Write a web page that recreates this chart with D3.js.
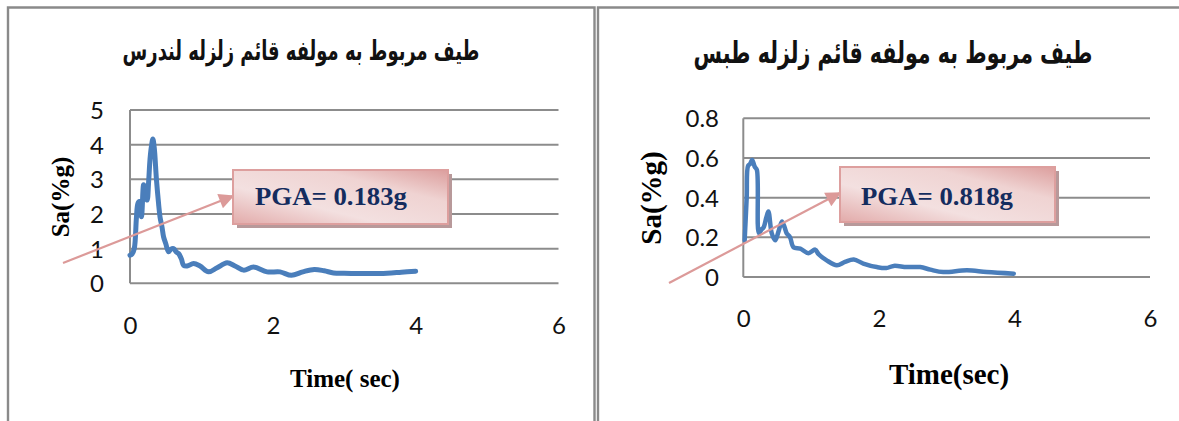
<!DOCTYPE html>
<html>
<head>
<meta charset="utf-8">
<script src="https://cdn.jsdelivr.net/npm/d3@7"></script>
<style>
  html, body { margin: 0; padding: 0; background: #fff; }
  svg { display: block; }
</style>
</head>
<body>
<svg id="chart" width="1179" height="421"></svg>
<script>
// Response spectra, vertical component — Landers (left) and Tabas (right)
const xTicks = [0, 2, 4, 6];

const landersTitle = "طیف مربوط به مولفه قائم زلزله لندرس";
const landersTime = [0, 0.03, 0.06, 0.09, 0.11, 0.13, 0.16, 0.19, 0.21, 0.24, 0.26, 0.28, 0.30, 0.32, 0.34, 0.37, 0.40, 0.42, 0.45, 0.47, 0.50, 0.54, 0.57, 0.61, 0.65, 0.68, 0.72, 0.75, 0.80, 0.89, 0.98, 1.10, 1.22, 1.36, 1.47, 1.59, 1.73, 1.92, 2.10, 2.26, 2.42, 2.58, 2.72, 2.85, 3.00, 3.33, 3.60, 3.80, 4.00];
const landersSa   = [0.81, 0.85, 1.00, 1.90, 2.30, 2.36, 1.92, 2.84, 2.60, 2.40, 2.90, 3.57, 3.95, 4.16, 3.90, 3.00, 2.30, 1.92, 1.60, 1.34, 1.15, 0.91, 0.98, 1.00, 0.90, 0.86, 0.70, 0.52, 0.50, 0.57, 0.50, 0.33, 0.45, 0.59, 0.50, 0.38, 0.47, 0.33, 0.33, 0.23, 0.33, 0.40, 0.36, 0.30, 0.29, 0.28, 0.29, 0.32, 0.35];
const landersYTicks = [0, 1, 2, 3, 4, 5];
const landersPGA = "PGA= 0.183g";
const landersXLabel = "Time( sec)";

const tabasTitle = "طیف مربوط به مولفه قائم زلزله طبس";
const tabasTime = [0.02, 0.05, 0.07, 0.10, 0.13, 0.17, 0.20, 0.23, 0.27, 0.30, 0.34, 0.37, 0.42, 0.47, 0.52, 0.57, 0.61, 0.64, 0.69, 0.74, 0.84, 0.96, 1.06, 1.11, 1.23, 1.38, 1.50, 1.63, 1.77, 1.97, 2.11, 2.22, 2.41, 2.61, 2.76, 2.95, 3.30, 3.59, 3.99];
const tabasSa   = [0.185, 0.40, 0.56, 0.57, 0.59, 0.555, 0.54, 0.22, 0.24, 0.25, 0.30, 0.33, 0.22, 0.185, 0.23, 0.28, 0.25, 0.22, 0.20, 0.15, 0.143, 0.12, 0.138, 0.115, 0.084, 0.059, 0.076, 0.088, 0.068, 0.05, 0.045, 0.056, 0.05, 0.05, 0.037, 0.025, 0.034, 0.025, 0.017];
const tabasYTicks = [0, 0.2, 0.4, 0.6, 0.8];
const tabasPGA = "PGA= 0.818g";
const tabasXLabel = "Time(sec)";

const svg = d3.select("#chart");

// gradient for the callout boxes
const defs = svg.append("defs");
const grad = defs.append("linearGradient").attr("id", "calloutFill")
  .attr("x1", "0%").attr("y1", "100%").attr("x2", "100%").attr("y2", "0%");
grad.append("stop").attr("offset", "0%").attr("stop-color", "#e2aaa9");
grad.append("stop").attr("offset", "35%").attr("stop-color", "#f3e0e0");
grad.append("stop").attr("offset", "70%").attr("stop-color", "#efd3d2");
grad.append("stop").attr("offset", "100%").attr("stop-color", "#dc9e9d");

defs.append("marker").attr("id", "arrowHead")
  .attr("viewBox", "0 0 10 10").attr("refX", 9).attr("refY", 5)
  .attr("markerWidth", 8).attr("markerHeight", 7).attr("orient", "auto")
  .attr("markerUnits", "strokeWidth")
  .append("path").attr("d", "M0,0 L10,5 L0,10 Z").attr("fill", "#dc9a99");

// panel frames
const frame = "#8a8a8a";
svg.append("path").attr("d", "M8,425 V7.5 H594.5 V425")
  .attr("fill", "none").attr("stroke", frame).attr("stroke-width", 2.4);
svg.append("path").attr("d", "M598,425 V7.5 H1185")
  .attr("fill", "none").attr("stroke", frame).attr("stroke-width", 2.4);

function drawPanel(cfg) {
  const g = svg.append("g");
  const x = d3.scaleLinear().domain([0, 6]).range([cfg.left, cfg.right]);
  const y = d3.scaleLinear().domain([0, cfg.yMax]).range([cfg.bottom, cfg.top]);

  // title, squeezed horizontally to its measured width
  const tg = g.append("g");
  const title = tg.append("text")
    .attr("x", 0).attr("y", 0)
    .attr("text-anchor", "middle")
    .attr("font-family", "'DejaVu Sans', sans-serif")
    .attr("font-weight", "bold")
    .attr("font-size", cfg.titleSize)
    .attr("fill", "#111")
    .text(cfg.title);
  const w = title.node().getComputedTextLength();
  const sx = w > 0 ? cfg.titleWidth / w : 1;
  tg.attr("transform", `translate(${cfg.titleX},${cfg.titleY}) scale(${sx},1)`);

  // horizontal gridlines
  g.append("g").selectAll("line").data(cfg.yTicks).join("line")
    .attr("x1", cfg.left).attr("x2", cfg.right)
    .attr("y1", d => y(d)).attr("y2", d => y(d))
    .attr("stroke", "#8c8c8c").attr("stroke-width", 2);

  // y axis line
  g.append("line").attr("x1", cfg.left).attr("x2", cfg.left)
    .attr("y1", y(cfg.yMax)).attr("y2", y(0))
    .attr("stroke", "#8c8c8c").attr("stroke-width", 2);

  // y tick labels
  const yAxis = d3.axisLeft(y).tickValues(cfg.yTicks).tickSize(0)
    .tickPadding(cfg.left - cfg.yLabelRight).tickFormat(cfg.yFormat);
  const ya = g.append("g").attr("transform", `translate(${cfg.left},0)`).call(yAxis);
  ya.select(".domain").remove();
  ya.selectAll("text").attr("font-family", "Lato, sans-serif")
    .attr("font-size", 24).attr("fill", "#111").attr("dy", "0.36em");

  // x tick labels
  const xAxis = d3.axisBottom(x).tickValues(xTicks).tickSize(0)
    .tickPadding(cfg.xLabelY - cfg.bottom).tickFormat(d3.format("d"));
  const xa = g.append("g").attr("transform", `translate(0,${cfg.bottom})`).call(xAxis);
  xa.select(".domain").remove();
  xa.selectAll("text").attr("font-family", "Lato, sans-serif")
    .attr("font-size", 24).attr("fill", "#111").attr("dy", "0");

  // spectrum line
  const pts = cfg.time.map((t, i) => [t, cfg.sa[i]]);
  g.append("path").datum(pts)
    .attr("fill", "none").attr("stroke", "#4a7ebb")
    .attr("stroke-width", cfg.lineWidth)
    .attr("stroke-linejoin", "round").attr("stroke-linecap", "round")
    .attr("d", d3.line().x(d => x(d[0])).y(d => y(d[1])).curve(d3.curveCatmullRom.alpha(0.5)));

  // axis titles
  g.append("text")
    .attr("transform", `translate(${cfg.yTitleX},${cfg.yTitleY}) rotate(-90)`)
    .attr("text-anchor", "middle").attr("dy", "0.35em")
    .attr("font-family", "'Liberation Serif', serif").attr("font-weight", "bold")
    .attr("font-size", cfg.axisTitleSize).attr("fill", "#000")
    .text("Sa(%g)");
  g.append("text")
    .attr("x", cfg.xTitleX).attr("y", cfg.xTitleY)
    .attr("text-anchor", "middle")
    .attr("font-family", "'Liberation Serif', serif").attr("font-weight", "bold")
    .attr("font-size", cfg.axisTitleSize).attr("fill", "#000")
    .text(cfg.xLabel);

  // callout with arrow
  const b = cfg.box;
  g.append("line")
    .attr("x1", cfg.arrowFrom[0]).attr("y1", cfg.arrowFrom[1])
    .attr("x2", b.x).attr("y2", cfg.arrowToY)
    .attr("stroke", "#dc9a99").attr("stroke-width", 2.2)
    .attr("marker-end", "url(#arrowHead)");
  g.append("rect").attr("x", b.x + 4).attr("y", b.y + 4)
    .attr("width", b.w).attr("height", b.h).attr("fill", "#b8999a");
  g.append("rect").attr("x", b.x).attr("y", b.y)
    .attr("width", b.w).attr("height", b.h)
    .attr("fill", "url(#calloutFill)")
    .attr("stroke", "#dd9f9e").attr("stroke-width", 2);
  g.append("text")
    .attr("x", b.textX).attr("y", b.textY)
    .attr("font-family", "'Liberation Serif', serif").attr("font-weight", "bold")
    .attr("font-size", 26).attr("fill", "#142c5e")
    .attr("textLength", b.textW).attr("lengthAdjust", "spacingAndGlyphs")
    .text(cfg.pga);
}

drawPanel({
  title: landersTitle, titleX: 301, titleY: 60, titleWidth: 357, titleSize: 27,
  left: 130, right: 558.5, top: 110, bottom: 283.3, yMax: 5,
  yTicks: landersYTicks, yFormat: d3.format("d"), yLabelRight: 104,
  xLabelY: 334, time: landersTime, sa: landersSa, lineWidth: 5,
  yTitleX: 60, yTitleY: 197, xTitleX: 345, xTitleY: 387, axisTitleSize: 25,
  xLabel: landersXLabel, pga: landersPGA,
  arrowFrom: [63, 263], arrowToY: 196,
  box: { x: 233, y: 170, w: 215, h: 54, textX: 255, textY: 205, textW: 152 }
});

drawPanel({
  title: tabasTitle, titleX: 893, titleY: 63, titleWidth: 399, titleSize: 30,
  left: 743.3, right: 1150, top: 118.3, bottom: 277, yMax: 0.8,
  yTicks: tabasYTicks, yFormat: d => d === 0 ? "0" : d3.format(".1f")(d), yLabelRight: 719,
  xLabelY: 327, time: tabasTime, sa: tabasSa, lineWidth: 4.5,
  yTitleX: 651, yTitleY: 198, xTitleX: 949, xTitleY: 384, axisTitleSize: 29,
  xLabel: tabasXLabel, pga: tabasPGA,
  arrowFrom: [669, 283], arrowToY: 193,
  box: { x: 840, y: 167, w: 215, h: 55, textX: 861, textY: 205, textW: 152 }
});
</script>
</body>
</html>
